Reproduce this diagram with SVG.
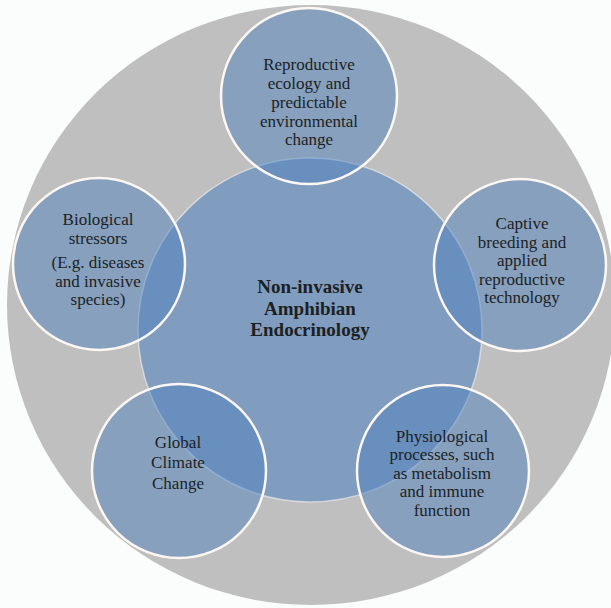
<svg xmlns="http://www.w3.org/2000/svg" width="611" height="608" viewBox="0 0 611 608">
<style>
.bg{fill:#fbfcfc}
.outer{fill:#bfbfbf}
.core{fill:#4f81bd;fill-opacity:0.56;stroke:#ffffff;stroke-opacity:0.5;stroke-width:1.5}
.sat{fill:#4f81bd;fill-opacity:0.5;stroke:#fdf7f3;stroke-width:2.5}
text{font-family:'Liberation Serif','DejaVu Serif',serif;font-size:17px;fill:#1c1f24;text-anchor:middle}
.title{font-weight:bold;font-size:19px}
</style>
<rect class="bg" x="0" y="0" width="611" height="608"/>
<ellipse class="outer" cx="311" cy="305" rx="304" ry="300"/>
<g id="connectors"></g>
<g id="core">
<circle class="core" cx="310" cy="330" r="172"/>
<text class="title" x="310" y="293">Non-invasive</text>
<text class="title" x="310" y="315">Amphibian</text>
<text class="title" x="310" y="336">Endocrinology</text>
</g>
<g id="reproductive">
<circle class="sat" cx="309" cy="96" r="88"/>
<text x="309" y="70">Reproductive</text>
<text x="309" y="89">ecology and</text>
<text x="309" y="108">predictable</text>
<text x="309" y="127">environmental</text>
<text x="309" y="145">change</text>
</g>
<g id="captive">
<circle class="sat" cx="520" cy="265" r="86"/>
<text x="522" y="229">Captive</text>
<text x="522" y="248">breeding and</text>
<text x="522" y="266">applied</text>
<text x="522" y="285">reproductive</text>
<text x="522" y="303">technology</text>
</g>
<g id="physiological">
<circle class="sat" cx="443" cy="471" r="86"/>
<text x="442" y="442">Physiological</text>
<text x="442" y="460">processes, such</text>
<text x="442" y="479">as metabolism</text>
<text x="442" y="497">and immune</text>
<text x="442" y="516">function</text>
</g>
<g id="climate">
<circle class="sat" cx="179" cy="471" r="87"/>
<text x="178" y="448">Global</text>
<text x="178" y="468">Climate</text>
<text x="178" y="489">Change</text>
</g>
<g id="biological">
<circle class="sat" cx="99" cy="264" r="86"/>
<text x="98" y="225">Biological</text>
<text x="98" y="244">stressors</text>
<text x="98" y="268">(E.g. diseases</text>
<text x="98" y="287">and invasive</text>
<text x="98" y="305">species)</text>
</g>
</svg>
